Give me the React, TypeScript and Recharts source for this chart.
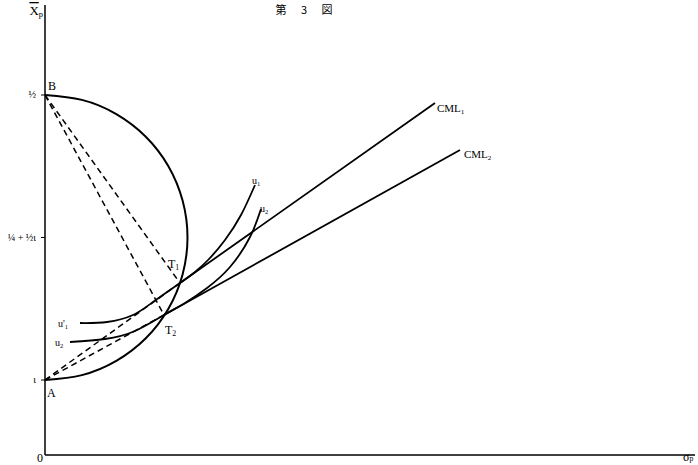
import React from "react";
import { LineChart, Line, XAxis, YAxis, ReferenceDot } from "recharts";

// all values are in the chart's own units (sigma_p across, mean return up)
const circleSigma = [0, 36.9, 71.3, 100.8, 123.4, 137.6, 142.5, 137.6, 123.4, 100.8, 71.3, 36.9, 0];
const circleMu = [75, 79.9, 94.1, 116.7, 146.3, 180.6, 217.5, 254.4, 288.8, 318.3, 340.9, 355.1, 360];

const u1Sigma = [35, 62, 88, 108, 135, 150, 164, 180, 196, 210];
const u1Mu = [132, 133, 140, 153, 172, 183, 196, 215, 240, 270];

const u2Sigma = [25, 60, 90, 119, 140, 162, 185, 205, 216];
const u2Mu = [113, 116, 124, 140, 152, 167, 188, 218, 246];

const cml1Sigma = [135, 390];
const cml1Mu = [172, 352];
const cml2Sigma = [119, 415];
const cml2Mu = [140, 305];

// points A, B, T1, T2
const pointA = [0, 75];
const pointB = [0, 360];
const pointT1 = [135, 172];
const pointT2 = [119, 140];

const yTicks = [75, 217.5, 360];
const yTickLabels = ["ι", "¼ + ½ι", "½"];

type Note = { x: number; y: number; main: string; sub?: string; subDy?: number; anchor?: "start" | "middle" | "end"; size?: number; font?: string; over?: boolean; spacing?: number };

const notes: Note[] = [
  { x: 262, y: 441, main: "第 3 図", anchor: "middle", size: 11, font: "'Noto Sans CJK JP', serif", spacing: 6 },
  { x: -2, y: 440, main: "X", sub: "p", anchor: "end", size: 13, over: true },
  { x: 3, y: 365, main: "B", size: 12 },
  { x: 2, y: 58, main: "A", size: 12 },
  { x: -2, y: -7, main: "0", anchor: "end", size: 12 },
  { x: 638, y: -6, main: "σ", sub: "p", subDy: 0, size: 12 },
  { x: 123, y: 187, main: "T", sub: "1", size: 12 },
  { x: 120, y: 121, main: "T", sub: "2", size: 12 },
  { x: 207, y: 271, main: "u", sub: "1", size: 10 },
  { x: 215, y: 243, main: "u", sub: "2", size: 10 },
  { x: 13, y: 128, main: "u'", sub: "1", size: 10 },
  { x: 10, y: 109, main: "u", sub: "2", size: 10 },
  { x: 392, y: 343, main: "CML", sub: "1" },
  { x: 419, y: 297, main: "CML", sub: "2" },
];

const zip = (xs: number[], ys: number[]) => xs.map((x, i) => ({ x, y: ys[i] }));
const seg = (p: number[], q: number[]) => [{ x: p[0], y: p[1] }, { x: q[0], y: q[1] }];

const solid = { stroke: "#000", strokeWidth: 1.8, dot: false, isAnimationActive: false };
const dashed = { stroke: "#000", strokeWidth: 1.5, strokeDasharray: "6 4", dot: false, isAnimationActive: false };

const YTick = (p: any) => (
  <text
    x={p.x - 3}
    y={p.y}
    dy={3}
    textAnchor="end"
    fontSize={10}
    fontFamily="'Liberation Serif', serif"
    fill="#000"
  >
    {yTickLabels[yTicks.indexOf(p.payload.value)]}
  </text>
);

export default function App() {
  return (
    <div style={{ position: "absolute", left: 0, top: 0, background: "#fff" }}>
      <LineChart width={698} height={465} margin={{ top: 5, right: 3, left: 0, bottom: 0 }}>
        <XAxis
          type="number"
          dataKey="x"
          domain={[0, 650]}
          ticks={[]}
          tick={false}
          height={10}
          axisLine={{ stroke: "#000", strokeWidth: 1.5 }}
          allowDataOverflow
        />
        <YAxis
          type="number"
          dataKey="y"
          domain={[0, 450]}
          ticks={yTicks}
          width={45}
          tickSize={4}
          tickLine={{ stroke: "#000" }}
          axisLine={{ stroke: "#000", strokeWidth: 1.5 }}
          tick={YTick}
          allowDataOverflow
        />
        <Line data={zip(circleSigma, circleMu)} dataKey="y" type="natural" {...solid} strokeWidth={2} />
        <Line data={zip(u1Sigma, u1Mu)} dataKey="y" type="natural" {...solid} />
        <Line data={zip(u2Sigma, u2Mu)} dataKey="y" type="natural" {...solid} />
        <Line data={zip(cml1Sigma, cml1Mu)} dataKey="y" type="linear" {...solid} />
        <Line data={zip(cml2Sigma, cml2Mu)} dataKey="y" type="linear" {...solid} />
        <Line data={seg(pointA, pointT1)} dataKey="y" type="linear" {...dashed} />
        <Line data={seg(pointA, pointT2)} dataKey="y" type="linear" {...dashed} />
        <Line data={seg(pointB, pointT1)} dataKey="y" type="linear" {...dashed} />
        <Line data={seg(pointB, pointT2)} dataKey="y" type="linear" {...dashed} />
        {notes.map((n, i) => (
          <ReferenceDot
            key={i}
            x={n.x}
            y={n.y}
            r={0}
            ifOverflow="visible"
            shape={(p: any) => (
              <text
                x={p.cx}
                y={p.cy}
                textAnchor={n.anchor ?? "start"}
                fontSize={n.size ?? 11}
                fontFamily={n.font ?? "'Liberation Serif', serif"}
                letterSpacing={n.spacing}
                fill="#000"
              >
                <tspan textDecoration={n.over ? "overline" : undefined}>{n.main}</tspan>
                {n.sub && (
                  <tspan fontSize={(n.size ?? 11) * 0.65} dy={n.subDy ?? 2}>
                    {n.sub}
                  </tspan>
                )}
              </text>
            )}
          />
        ))}
      </LineChart>
    </div>
  );
}
